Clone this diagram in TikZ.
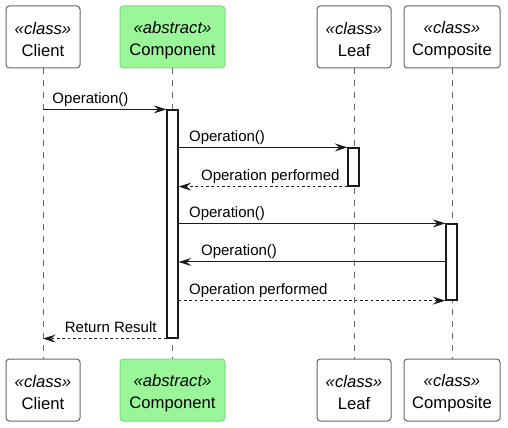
\documentclass[tikz,border=0pt]{standalone}
\usepackage{fontspec}
\setmainfont{Liberation Sans}
\usetikzlibrary{arrows.meta}
\definecolor{boxline}{HTML}{666666}
\definecolor{compfill}{RGB}{153,247,153}
\definecolor{compline}{RGB}{130,214,130}
\definecolor{ink}{HTML}{1A1A1A}
\tikzset{
  box/.style={rectangle, rounded corners=2.5pt, line width=0.75pt, minimum height=46.5pt, inner sep=0pt},
  boxtext/.style={align=center, inner sep=0pt, font=\fontsize{12.5}{16.5}\selectfont},
  life/.style={draw=boxline, line width=0.6pt, dash pattern=on 4.5pt off 4.5pt},
  bar/.style={draw=ink, fill=white, line width=0.9pt, minimum width=8.25pt, inner sep=0pt},
  msg/.style={draw=ink, line width=0.75pt, -{Stealth[length=9.5pt,width=6pt,inset=3.5pt]}},
  reply/.style={msg, dash pattern=on 2pt off 2pt},
  lbl/.style={font=\fontsize{11.25}{13}\selectfont, anchor=base west, inner sep=0pt, yshift=4.5pt}
}
\begin{document}
\begin{tikzpicture}[x=0.75pt,y=-0.75pt]
        \useasboundingbox (0,0) rectangle (508,428);
        \foreach \nm/\x/\w/\st/\fl/\dr in {Client/43/74/class/white/boxline, Component/172.5/105/abstract/compfill/compline, Leaf/354/74/class/white/boxline, Composite/452/96/class/white/boxline}{
        \node[box, minimum width={\w*0.75pt}, fill=\fl, draw=\dr] (top\nm) at (\x,37) {};
        \node[boxtext] (topt\nm) at (\x,40) {\textit{«\st»}\\\nm};
        \node[box, minimum width={\w*0.75pt}, fill=\fl, draw=\dr] (bot\nm) at (\x,390) {};
        \node[boxtext] (bott\nm) at (\x,393) {\textit{«\st»}\\\nm};
        \draw[life] (top\nm) -- (bot\nm);
        }
        \node[bar, minimum height=171pt] (barComp) at (172.5,224) {};
        \node[bar, minimum height=28.5pt] (barLeaf) at (353.5,167) {};
        \node[bar, minimum height=57pt] (barComposite) at (451.5,262) {};
        \draw[msg] (topClient.south |- barComp.north) -- (barComp.north west)
          node[lbl, at start, xshift=6.75pt] {Operation()};
        \draw[msg] (barComp.east |- barLeaf.north) -- (barLeaf.north west)
          node[lbl, at start, xshift=7.5pt] {Operation()};
        \draw[reply] (barLeaf.south west) -- (barComp.east |- barLeaf.south)
          node[lbl, at end, xshift=16.5pt] {Operation performed};
        \draw[msg] (barComp.east |- barComposite.north) -- (barComposite.north west)
          node[lbl, at start, xshift=7.5pt] {Operation()};
        \draw[msg] (barComposite.west) -- (barComp.east |- barComposite.west)
          node[lbl, at end, xshift=16.5pt] {Operation()};
        \draw[reply] (barComp.east |- barComposite.south) -- (barComposite.south west)
          node[lbl, at start, xshift=7.5pt] {Operation performed};
        \draw[reply] (barComp.south west) -- (topClient.south |- barComp.south)
          node[lbl, at end, xshift=16pt] {Return Result};
    \end{tikzpicture}
\end{document}
